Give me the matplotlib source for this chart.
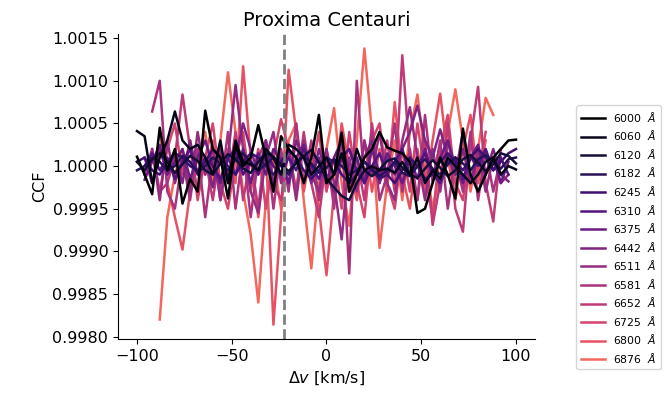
import numpy as np
import matplotlib
matplotlib.use('Agg')
import matplotlib.pyplot as plt

nan = np.nan

# velocity grid of the CCFs in km/s
velocity = np.arange(-100, 101, 4)
rv_star = -22.4  # Proxima Centauri RV

wavelengths = [6000, 6060, 6120, 6182, 6245, 6310, 6375,
               6442, 6511, 6581, 6652, 6725, 6800, 6876]

# CCF - 1, in units of 1e-4, one value per velocity point (nan = outside range)
ccf_6000 = [1.1, -1, -3.3, 4.5, -0.5, 2, -4.4, -1.5, -3, 6.5,
            2, 1, -3.8, 2.5, 0, 1, 4.8, 1, -3, 3.5,
            2, 1, -2, 1, 6, -2, -1, 3.9, -3, -1,
            1, 2, 4, 2.2, 1.8, 1.5, 0.5, -5.5, -5, -2,
            1, -1, -3.8, 4.4, -1, -3, -1, 1, 2, 3,
            3.1]
ccf_6060 = [4.1, 3.5, -2, 1, 3, 6.4, 3, 2, 2.5, 1,
            -1, 3, -2, 3, 0.5, 0.2, -0.5, 2, 1, -1,
            2.5, 2, 1, -1, 0, 1, -1, 1.5, -2, 2,
            -0.5, 0, -0.5, -0.3, -0.8, 0.5, -1, 1, -2, -0.5,
            -1.5, 1, 0, -1, -2, -1, 0.5, 1, -1, 0,
            -0.4]
ccf_6120 = [0.5, -0.5, 0.8, 1.5, 0.5, -0.8, 0.2, 1.2, 0.6, -0.5,
            -1, 0.3, 1.4, 0.8, -0.3, -0.8, 0.5, 1.5, 1.1, 0.2,
            -0.6, 0.3, 1.2, 1.9, 0.4, -1.5, -2.5, -3.5, -4, -2,
            -0.5, -1.2, -0.4, 0.6, 0.9, -0.2, -1, -1.4, -0.3, 0.7,
            -0.2, -1.2, -0.5, 0.8, 1.3, 0.4, -0.6, 0.2, 1.5, 1.2,
            0.3]
ccf_6182 = [-0.5, 0, 1, 0.5, -0.5, 0, 1.2, 0.5, -0.8, 0,
            1, 0.3, -0.5, 0.8, 1.5, 0.5, -0.5, 0.2, 1, 0,
            -1, 0.5, 1.2, 0.3, -0.8, -0.2, 0.8, 0, -1, -0.5,
            0.5, -0.3, -1.2, -0.5, 0.5, -0.8, -1.2, 0, 0.8, -0.3,
            -1, 0.2, 1, 0.3, -0.5, 0.8, 1.3, 0.5, -0.3, 0.8,
            1]
ccf_6245 = [0.5, 1, -0.5, -1, 0.5, 1.5, 1, 0, -0.5, 0.5,
            2, 1, 0, -1, 0.5, 1.5, 1, 0, -1, 0.5,
            1.8, 1, -0.5, -1.5, -0.5, 1, 0.5, -1, -2, -1,
            0.5, -0.5, -1.5, -1, -2, -0.5, 1, 0, -1.5, -1,
            0.5, 1.5, 0.5, -0.5, 1, 2, 1, -0.5, 0.5, 1.5,
            2]
ccf_6310 = [nan, 0, 1.5, -0.5, 1, -1.5, 0.5, 2, -1, 1,
            0, -1.5, 1, 2, -1, 0.5, -1, 1.5, 0, -1,
            1, -0.5, 2, 0, -1.5, 1, -1, 1, 2, -0.5,
            -2, 0, 1.5, -1, 0.5, 2, -1, 0, 1.5, -1,
            -2, 0.5, 1, -1.5, 1, 0, 2, -0.5, 1, -1,
            nan]
ccf_6375 = [nan, -1.6, 0.5, 2.5, -1, 0.5, 2, -1.5, 1, 3,
            0, -2, 1, -1, 2, -2, 1.5, -1, 2, 0.5,
            -2, 1, 2.5, -1, 1, -2, 1, 3, -1, 1,
            -2, 2, -1, 1.5, 0, -2, 1, -1.5, 2, -1,
            1, 3, 0, -2, 1, 2.5, -1, 1, -2, 0.5,
            nan]
ccf_6442 = [nan, 1, -2, 2, -1, 1.5, -2, 3, -1, 1,
            -2.5, 2, -1, 1, 5, 2, -1, 3, -2, 1,
            -2, 3, 1, -2, 2, -1, -3, 1, 2, -1,
            1, 3, -2, 1, -1, 2, 4, 7.1, 3, 1,
            4.3, 1, -1, 2, -2, 1, -1, 2, -1, -1.8,
            nan]
ccf_6511 = [nan, -1, 2, -4, 3, -2, 1, -3, 4, -1,
            2, -4, 1, 9.5, 2, -3, -5.5, 1, 4, -2,
            2, -4, 3, -1, -3, 2, -2, -8.6, 1, -3,
            3, -1, 4, -2, -4, 3, 6.9, 1, -4, 2,
            -3, 3, -1, 4, -2, 2, -3, 1, -2, -1,
            nan]
ccf_6581 = [nan, nan, 6.4, 10, -3, -5, 1, -4, 2, -6,
            1, -3, 4, -5, 2, -6, 1, 3, -5, 2,
            -3, 5, -2, 3, -4, 2, -5, 4, -12.6, 10,
            -2, 4, -4, -1, 5, -3, 2, -4, 6, -2,
            3, -5, 1, -3, 4, -4, 2, -3, 1, nan,
            nan]
ccf_6652 = [nan, nan, 2, -3, -2, 1, 8.4, 2, -3, 1,
            -4, 2, -2, 4, -4, 1, -5, 3, -2, -4,
            2, -3, 4, -2, -6, 1, -4, 3, -3, 1,
            -4, 5, -2, 3, -3, 13, 1, -4, 3, -6.9,
            -2, 5, -5, -7.7, 3, 9.3, -2, -6.5, 2, nan,
            nan]
ccf_6725 = [nan, nan, nan, -3, 2, 5, -1, 3, -4, 1,
            5, -2, -5, 1, 4, -3, 2, -5, 1, 5.5,
            2, -3, 3, -1, 4, -3, 1, -5, 4, -2,
            -6, 3, 5, -2, -5, 2, -3, 5, -1, -6,
            2, 6, -2, -4, 3, -1, 4, nan, nan, nan,
            nan]
ccf_6800 = [nan, nan, nan, 4, -2, -6, -9.8, -3, 2, -1,
            3, -4, 2, -2, 11.7, 1, -6, 2, -18.6, -6,
            11.3, 4, -3, 2, -5, -12.8, -3, 5, 0, -4,
            3, -3, 2, -3, 7.5, -1, -5, 2, -3, 3,
            8.5, 1, -4, 2, 6, -2, 3, nan, nan, nan,
            nan]
ccf_6876 = [nan, nan, nan, -18, -6, -1, 2, -3, 1, 4,
            -2, 3, 11, 4, -3, -8, -16, -4, 1, -5,
            3, 5, -4, -12, -2, 2, 6.8, -2, -7, 3,
            13.8, 4, -9.6, -2, 3, -4, 4, 8.4, 1, -5,
            -1, 4, 9, 3, -3, 2, 8, 6, nan, nan,
            nan]

series = [ccf_6000, ccf_6060, ccf_6120, ccf_6182, ccf_6245, ccf_6310, ccf_6375,
          ccf_6442, ccf_6511, ccf_6581, ccf_6652, ccf_6725, ccf_6800, ccf_6876]

colors = plt.cm.magma(np.linspace(0, 0.68, len(wavelengths)))

fig = plt.figure(figsize=(6.67, 3.99), dpi=100)
ax = fig.add_axes([0.177, 0.150, 0.625, 0.765])

# draw redder orders first so the black ones end up on top
for wl, dev, c in reversed(list(zip(wavelengths, series, colors))):
    ccf = 1 + np.array(dev, dtype=float) * 1e-4
    ax.plot(velocity, ccf, color=c, lw=1.8, label=f'{wl}  $\\AA$')

ax.axvline(rv_star, color='gray', ls='--', lw=2)

ax.set_xlim(-110, 110)
ax.set_ylim(0.99797, 1.00155)
ax.set_xticks([-100, -50, 0, 50, 100])
ax.set_yticks(np.arange(0.998, 1.00151, 0.0005))
ax.yaxis.set_major_formatter(matplotlib.ticker.FormatStrFormatter('%.4f'))
ax.tick_params(labelsize=11.5)
ax.spines['top'].set_visible(False)
ax.spines['right'].set_visible(False)
ax.set_xlabel(r'$\Delta v$ [km/s]', fontsize=11.5)
ax.set_ylabel('CCF', fontsize=11.5)
ax.set_title('Proxima Centauri', fontsize=14)

handles, labels = ax.get_legend_handles_labels()
fig.legend(handles[::-1], labels[::-1], loc='center left',
           bbox_to_anchor=(0.856, 0.405), fontsize=7.8, labelspacing=0.42,
           handlelength=2.2)

fig.savefig('out.png', dpi=100)
